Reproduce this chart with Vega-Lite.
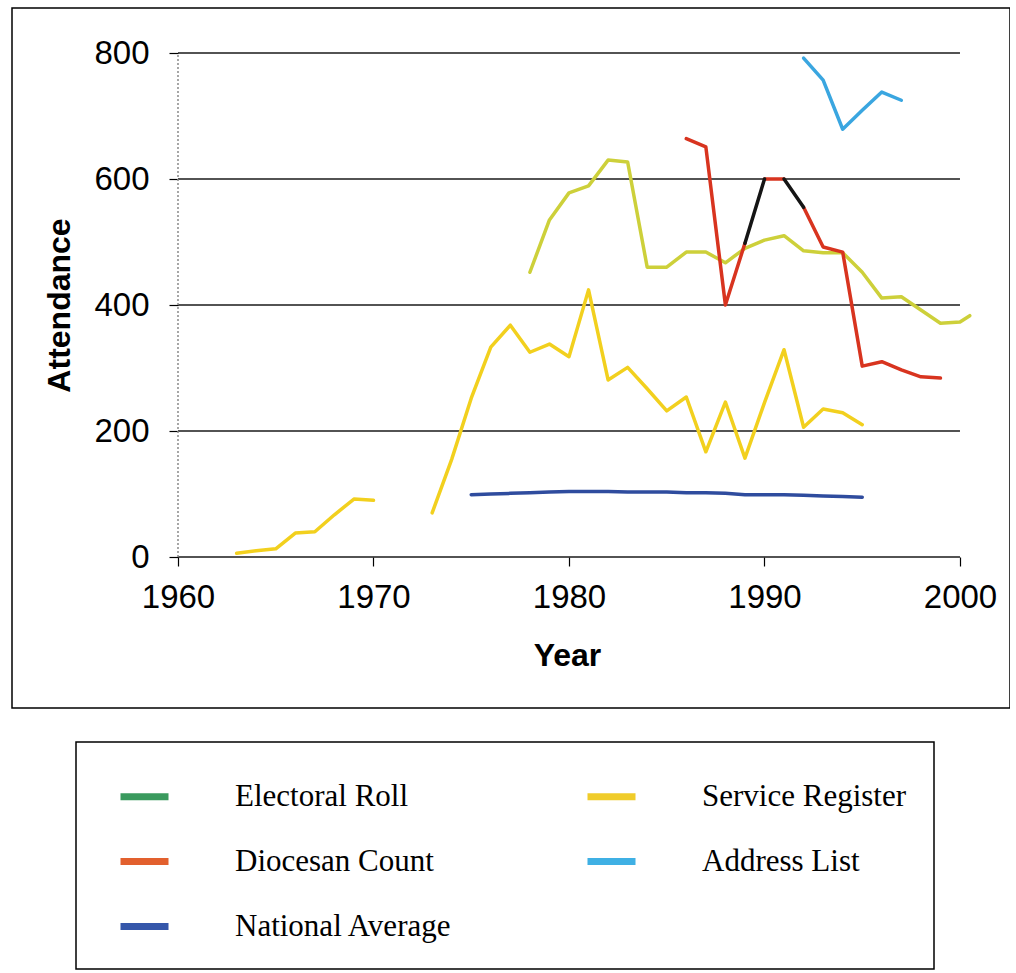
{
  "$schema": "https://vega.github.io/schema/vega-lite/v6.json",
  "width": 998,
  "height": 700,
  "padding": {"left": 12, "top": 8, "right": 0, "bottom": 0},
  "background": "white",
  "config": {
    "view": {"stroke": "black", "strokeWidth": 1.5},
    "legend": {"strokeColor": "black", "strokeWidth": 1.5},
    "axisX": {"offset": -151,
      "domain": false, "grid": false, "tickSize": 9, "tickColor": "black", "tickWidth": 1.2,
      "labelFont": "Liberation Sans", "labelFontSize": 33, "labelColor": "black", "labelPadding": 15,
      "labelOverlap": false, "labelFlush": false,
      "titleFont": "Liberation Sans", "titleFontSize": 32, "titleFontWeight": "bold", "titleColor": "black",
      "titleX": 555, "titlePadding": 26},
    "axisY": {"offset": -166,
      "domain": false, "grid": false, "tickSize": 9, "tickColor": "black", "tickWidth": 1.2,
      "labelFont": "Liberation Sans", "labelFontSize": 33, "labelColor": "black", "labelPadding": 20,
      "labelOverlap": false,
      "titleFont": "Liberation Sans", "titleFontSize": 32, "titleFontWeight": "bold", "titleColor": "black",
      "titleY": 297, "titlePadding": 17}
  },
  "datasets": {
    "grid": [{"g": 0}, {"g": 200}, {"g": 400}, {"g": 600}, {"g": 800}],
    "axisline": [{"x": 1960, "lo": 0, "hi": 800}],
    "lines": [
      {"series": "Electoral Roll", "part": "ER", "year": 1978, "value": 452},
      {"series": "Electoral Roll", "part": "ER", "year": 1979, "value": 535},
      {"series": "Electoral Roll", "part": "ER", "year": 1980, "value": 578},
      {"series": "Electoral Roll", "part": "ER", "year": 1981, "value": 589},
      {"series": "Electoral Roll", "part": "ER", "year": 1982, "value": 630},
      {"series": "Electoral Roll", "part": "ER", "year": 1983, "value": 627},
      {"series": "Electoral Roll", "part": "ER", "year": 1984, "value": 460},
      {"series": "Electoral Roll", "part": "ER", "year": 1985, "value": 460},
      {"series": "Electoral Roll", "part": "ER", "year": 1986, "value": 484},
      {"series": "Electoral Roll", "part": "ER", "year": 1987, "value": 484},
      {"series": "Electoral Roll", "part": "ER", "year": 1988, "value": 467},
      {"series": "Electoral Roll", "part": "ER", "year": 1989, "value": 490},
      {"series": "Electoral Roll", "part": "ER", "year": 1990, "value": 503},
      {"series": "Electoral Roll", "part": "ER", "year": 1991, "value": 510},
      {"series": "Electoral Roll", "part": "ER", "year": 1992, "value": 486},
      {"series": "Electoral Roll", "part": "ER", "year": 1993, "value": 483},
      {"series": "Electoral Roll", "part": "ER", "year": 1994, "value": 483},
      {"series": "Electoral Roll", "part": "ER", "year": 1995, "value": 452},
      {"series": "Electoral Roll", "part": "ER", "year": 1996, "value": 411},
      {"series": "Electoral Roll", "part": "ER", "year": 1997, "value": 413},
      {"series": "Electoral Roll", "part": "ER", "year": 1998, "value": 392},
      {"series": "Electoral Roll", "part": "ER", "year": 1999, "value": 371},
      {"series": "Electoral Roll", "part": "ER", "year": 2000, "value": 373},
      {"series": "Electoral Roll", "part": "ER", "year": 2000.5, "value": 383},
      {"series": "Service Register", "part": "SR1", "year": 1963, "value": 6},
      {"series": "Service Register", "part": "SR1", "year": 1964, "value": 10},
      {"series": "Service Register", "part": "SR1", "year": 1965, "value": 13},
      {"series": "Service Register", "part": "SR1", "year": 1966, "value": 38},
      {"series": "Service Register", "part": "SR1", "year": 1967, "value": 40},
      {"series": "Service Register", "part": "SR1", "year": 1968, "value": 67},
      {"series": "Service Register", "part": "SR1", "year": 1969, "value": 92},
      {"series": "Service Register", "part": "SR1", "year": 1970, "value": 90},
      {"series": "Service Register", "part": "SR2", "year": 1973, "value": 70},
      {"series": "Service Register", "part": "SR2", "year": 1974, "value": 155},
      {"series": "Service Register", "part": "SR2", "year": 1975, "value": 252},
      {"series": "Service Register", "part": "SR2", "year": 1976, "value": 333},
      {"series": "Service Register", "part": "SR2", "year": 1977, "value": 368},
      {"series": "Service Register", "part": "SR2", "year": 1978, "value": 325},
      {"series": "Service Register", "part": "SR2", "year": 1979, "value": 338},
      {"series": "Service Register", "part": "SR2", "year": 1980, "value": 318},
      {"series": "Service Register", "part": "SR2", "year": 1981, "value": 424},
      {"series": "Service Register", "part": "SR2", "year": 1982, "value": 281},
      {"series": "Service Register", "part": "SR2", "year": 1983, "value": 301},
      {"series": "Service Register", "part": "SR2", "year": 1984, "value": 267},
      {"series": "Service Register", "part": "SR2", "year": 1985, "value": 232},
      {"series": "Service Register", "part": "SR2", "year": 1986, "value": 254},
      {"series": "Service Register", "part": "SR2", "year": 1987, "value": 167},
      {"series": "Service Register", "part": "SR2", "year": 1988, "value": 246},
      {"series": "Service Register", "part": "SR2", "year": 1989, "value": 157},
      {"series": "Service Register", "part": "SR2", "year": 1990, "value": 245},
      {"series": "Service Register", "part": "SR2", "year": 1991, "value": 329},
      {"series": "Service Register", "part": "SR2", "year": 1992, "value": 206},
      {"series": "Service Register", "part": "SR2", "year": 1993, "value": 235},
      {"series": "Service Register", "part": "SR2", "year": 1994, "value": 229},
      {"series": "Service Register", "part": "SR2", "year": 1995, "value": 210},
      {"series": "National Average", "part": "NA", "year": 1975, "value": 99},
      {"series": "National Average", "part": "NA", "year": 1976, "value": 100},
      {"series": "National Average", "part": "NA", "year": 1977, "value": 101},
      {"series": "National Average", "part": "NA", "year": 1978, "value": 102},
      {"series": "National Average", "part": "NA", "year": 1979, "value": 103},
      {"series": "National Average", "part": "NA", "year": 1980, "value": 104},
      {"series": "National Average", "part": "NA", "year": 1981, "value": 104},
      {"series": "National Average", "part": "NA", "year": 1982, "value": 104},
      {"series": "National Average", "part": "NA", "year": 1983, "value": 103},
      {"series": "National Average", "part": "NA", "year": 1984, "value": 103},
      {"series": "National Average", "part": "NA", "year": 1985, "value": 103},
      {"series": "National Average", "part": "NA", "year": 1986, "value": 102},
      {"series": "National Average", "part": "NA", "year": 1987, "value": 102},
      {"series": "National Average", "part": "NA", "year": 1988, "value": 101},
      {"series": "National Average", "part": "NA", "year": 1989, "value": 99},
      {"series": "National Average", "part": "NA", "year": 1990, "value": 99},
      {"series": "National Average", "part": "NA", "year": 1991, "value": 99},
      {"series": "National Average", "part": "NA", "year": 1992, "value": 98},
      {"series": "National Average", "part": "NA", "year": 1993, "value": 97},
      {"series": "National Average", "part": "NA", "year": 1994, "value": 96},
      {"series": "National Average", "part": "NA", "year": 1995, "value": 95},
      {"series": "Diocesan Count", "part": "DC1", "year": 1986, "value": 664},
      {"series": "Diocesan Count", "part": "DC1", "year": 1987, "value": 651},
      {"series": "Diocesan Count", "part": "DC1", "year": 1988, "value": 400},
      {"series": "Diocesan Count", "part": "DC1", "year": 1989, "value": 498},
      {"series": "Diocesan Count", "part": "DC2", "year": 1990, "value": 600},
      {"series": "Diocesan Count", "part": "DC2", "year": 1991, "value": 600},
      {"series": "Diocesan Count", "part": "DC3", "year": 1992, "value": 555},
      {"series": "Diocesan Count", "part": "DC3", "year": 1993, "value": 492},
      {"series": "Diocesan Count", "part": "DC3", "year": 1994, "value": 484},
      {"series": "Diocesan Count", "part": "DC3", "year": 1995, "value": 303},
      {"series": "Diocesan Count", "part": "DC3", "year": 1996, "value": 310},
      {"series": "Diocesan Count", "part": "DC3", "year": 1997, "value": 297},
      {"series": "Diocesan Count", "part": "DC3", "year": 1998, "value": 286},
      {"series": "Diocesan Count", "part": "DC3", "year": 1999, "value": 284},
      {"series": "Diocesan Count (gap)", "part": "G1", "year": 1989, "value": 498},
      {"series": "Diocesan Count (gap)", "part": "G1", "year": 1990, "value": 600},
      {"series": "Diocesan Count (gap)", "part": "G2", "year": 1991, "value": 600},
      {"series": "Diocesan Count (gap)", "part": "G2", "year": 1992, "value": 555},
      {"series": "Address List", "part": "AL", "year": 1992, "value": 792},
      {"series": "Address List", "part": "AL", "year": 1993, "value": 757},
      {"series": "Address List", "part": "AL", "year": 1994, "value": 679},
      {"series": "Address List", "part": "AL", "year": 1995, "value": 709},
      {"series": "Address List", "part": "AL", "year": 1996, "value": 738},
      {"series": "Address List", "part": "AL", "year": 1997, "value": 725}
    ]
  },
  "resolve": {"scale": {"color": "independent", "strokeWidth": "independent"}, "legend": {"color": "independent"}},
  "layer": [
    {
      "data": {"name": "grid"},
      "mark": {"type": "rule", "color": "#1a1a1a", "strokeWidth": 1.4},
      "encoding": {
        "x": {"datum": 1960, "type": "quantitative", "scale": {"domain": [1951.509, 2002.558], "nice": false, "zero": false},
          "axis": {"title": "Year", "values": [1960, 1970, 1980, 1990, 2000], "format": "d"}},
        "x2": {"datum": 2000},
        "y": {"field": "g", "type": "quantitative", "scale": {"domain": [-239.68, 871.43], "nice": false, "zero": false},
          "axis": {"title": "Attendance", "values": [0, 200, 400, 600, 800], "format": "d"}}
      }
    },
    {
      "data": {"name": "axisline"},
      "mark": {"type": "rule", "color": "#8a8a8a", "strokeWidth": 1.5, "strokeDash": [2, 2]},
      "encoding": {
        "x": {"field": "x", "type": "quantitative", "scale": {"domain": [1951.509, 2002.558], "nice": false, "zero": false},
          "axis": {"title": "Year", "values": [1960, 1970, 1980, 1990, 2000], "format": "d"}},
        "y": {"field": "lo", "type": "quantitative", "scale": {"domain": [-239.68, 871.43], "nice": false, "zero": false},
          "axis": {"title": "Attendance", "values": [0, 200, 400, 600, 800], "format": "d"}},
        "y2": {"field": "hi"}
      }
    },
    {
      "data": {"name": "lines"},
      "mark": {"type": "line", "strokeCap": "round", "strokeJoin": "round"},
      "encoding": {
        "x": {"field": "year", "type": "quantitative", "scale": {"domain": [1951.509, 2002.558], "nice": false, "zero": false},
          "axis": {"title": "Year", "values": [1960, 1970, 1980, 1990, 2000], "format": "d"}},
        "y": {"field": "value", "type": "quantitative", "scale": {"domain": [-239.68, 871.43], "nice": false, "zero": false},
          "axis": {"title": "Attendance", "values": [0, 200, 400, 600, 800], "format": "d"}},
        "color": {"field": "series", "type": "nominal", "legend": null,
          "scale": {"domain": ["Electoral Roll", "Service Register", "National Average", "Diocesan Count", "Diocesan Count (gap)", "Address List"],
                    "range": ["#cdd03a", "#f2d01e", "#2f4c9e", "#d8341f", "#151515", "#3aa6e0"]}},
        "strokeWidth": {"field": "series", "type": "nominal", "legend": null,
          "scale": {"domain": ["Electoral Roll", "Service Register", "National Average", "Diocesan Count", "Diocesan Count (gap)", "Address List"],
                    "range": [3.5, 3.5, 4.5, 4.5, 4.5, 4]}},
        "detail": {"field": "part", "type": "nominal"}
      }
    },
    {
      "data": {"name": "lines"},
      "transform": [{"filter": "datum.value > 100000"}],
      "mark": {"type": "line", "strokeWidth": 7},
      "encoding": {
        "x": {"field": "year", "type": "quantitative", "scale": {"domain": [1951.509, 2002.558], "nice": false, "zero": false},
          "axis": {"title": "Year", "values": [1960, 1970, 1980, 1990, 2000], "format": "d"}},
        "y": {"field": "value", "type": "quantitative", "scale": {"domain": [-239.68, 871.43], "nice": false, "zero": false},
          "axis": {"title": "Attendance", "values": [0, 200, 400, 600, 800], "format": "d"}},
        "color": {"field": "series", "type": "nominal",
          "scale": {"domain": ["Electoral Roll", "Service Register", "Diocesan Count", "Address List", "National Average"],
                    "range": ["#3a9a5e", "#f0cc2a", "#e2602e", "#3fb0e4", "#3557aa"]},
          "legend": {"title": null, "orient": "none", "legendX": 64, "legendY": 734, "columns": 2, "direction": "horizontal",
            "symbolType": "stroke", "symbolSize": 2304, "symbolStrokeWidth": 7, "symbolOffset": 14,
            "labelFont": "Liberation Serif", "labelFontSize": 31, "labelColor": "black", "labelLimit": 500,
            "labelOffset": 63, "columnPadding": 117, "rowPadding": 22, "padding": 27, "strokeColor": "black"}}
      }
    }
  ]
}
